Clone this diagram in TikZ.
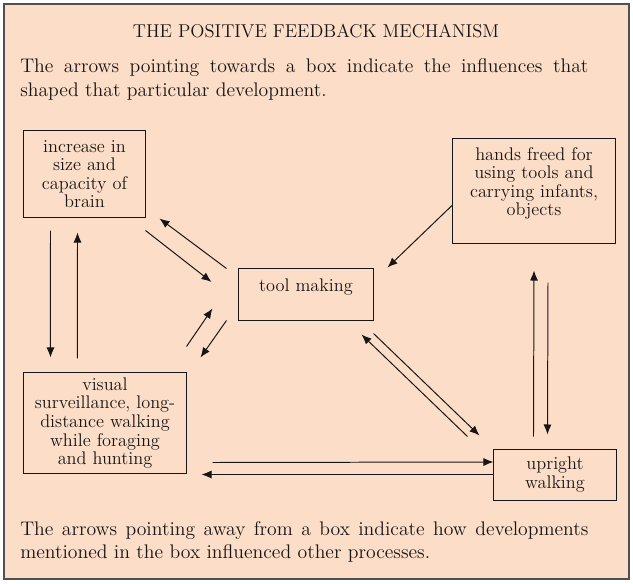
\documentclass[tikz,border=0pt]{standalone}
\usepackage{tikz}
\usetikzlibrary{positioning,arrows.meta,calc}
\definecolor{PeachFill}{HTML}{FCDDC7}
\definecolor{InkGray}{HTML}{161616}
\definecolor{FrameGray}{HTML}{505050}

\begin{document}
\begin{tikzpicture}[x=0.025cm,y=-0.025cm,every node/.style={text=InkGray},
  box/.style={draw=InkGray,line width=0.7pt,align=center,inner sep=0pt,font=\fontsize{13}{13.2}\selectfont},
  note/.style={anchor=base west,inner sep=0pt,text width=14.2cm,align=justify,font=\fontsize{14}{16.4}\selectfont},
  arr/.style={-{Latex[length=2.5mm,width=2mm]},InkGray,line width=0.7pt}]
  \useasboundingbox (0,0) rectangle (633,584);
  \draw[FrameGray,fill=PeachFill,line width=1.2pt] (4,4) rectangle (629,579);
  \node[inner sep=0pt,anchor=base,font=\fontsize{13.2}{15}\selectfont] (title) at (316,38) {THE POSITIVE FEEDBACK MECHANISM};
  \node[note] (towards) at (20,73) {The arrows pointing towards a box indicate the influences that shaped that particular development.};
  \node[note] (away) at (20,535) {The arrows pointing away from a box indicate how developments mentioned in the box influenced other processes.};
  \node[box,minimum width=3.025cm,minimum height=2.15cm] (brain) at (84.5,174) {increase in\\size and\\capacity of\\brain};
  \node[box,minimum width=4.05cm,minimum height=2.6cm] (hands) at (534,191) {hands freed for\\using tools and\\carrying infants,\\objects\\\mbox{}};
  \node[box,minimum width=3.35cm,minimum height=1.3cm] (tool) at (306,294) {tool making\\\mbox{}};
  \node[box,minimum width=4.05cm,minimum height=2.5cm] (visual) at (105,423) {visual\\surveillance, long-\\distance walking\\while foraging\\and hunting};
  \node[box,minimum width=3.05cm,minimum height=1.275cm] (upright) at (555,474.5) {upright\\walking};
  \draw[arr] ($(brain.south west)+(27,13)$) -- ($(visual.north west)+(27,-15)$);
  \draw[arr] ($(visual.north west)+(54,-14)$) -- ($(brain.south west)+(54,15)$);
  \draw[arr] ($(brain.south east)+(0,13)$) -- ($(tool.west)+(-27,-12)$);
  \draw[arr] ($(tool.north west)+(-12,1)$) -- ($(brain.south east)+(14,1)$);
  \draw[arr] ($(visual.north east)+(0,-26)$) -- ($(tool.south west)+(-26,-12)$);
  \draw[arr] ($(tool.south west)+(-12,0)$) -- ($(visual.north east)+(14,-15)$);
  \draw[arr] ($(hands.west)+(0,14)$) -- ($(tool.north east)+(14,0)$);
  \draw[arr] ($(upright.north west)+(40,-12)$) -- ($(hands.south)+(0,27)$);
  \draw[arr] ($(hands.south)+(14,39)$) -- ($(upright.north west)+(54,-14)$);
  \draw[arr] ($(upright.north west)+(-26,-12)$) -- ($(tool.south east)+(-12,14)$);
  \draw[arr] ($(tool.south east)+(0,13)$) -- ($(upright.north west)+(-14,-13)$);
  \draw[arr] ($(visual.south east)+(26,-11)$) -- ($(upright.west)+(0,-12.5)$);
  \draw[arr] (upright.west) -- ($(visual.south east)+(15,1)$);
\end{tikzpicture}
\end{document}
